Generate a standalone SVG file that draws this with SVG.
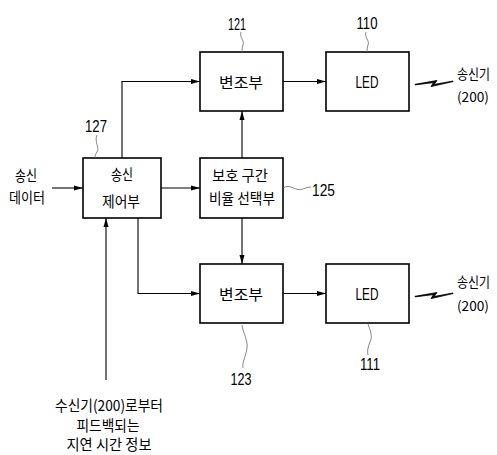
<svg xmlns="http://www.w3.org/2000/svg" width="497" height="455" viewBox="0 0 497 455">
<style>
.box{fill:#fff;stroke:#000;stroke-width:1.6}
.ln{fill:none;stroke:#000;stroke-width:1.1}
.sq{fill:none;stroke:#666;stroke-width:0.8}
.kt{font-family:"Noto Sans CJK KR","Noto Sans",sans-serif;font-size:15px;fill:#000}
.rt{font-size:13.5px}
.num{font-family:"Liberation Sans",sans-serif;font-size:17px;fill:#000}
.bolt{fill:#000;stroke:#000;stroke-width:0.8}
</style>
<defs>
<marker id="ah" markerUnits="userSpaceOnUse" markerWidth="10" markerHeight="6" refX="9" refY="3" orient="auto">
<path d="M0,0.5 L9,3 L0,5.5 z" fill="#000"/>
</marker>
</defs>
<g id="connectors">
<path class="ln" d="M52,188 H83" marker-end="url(#ah)"/>
<path class="ln" d="M122,158 V81.5 H200" marker-end="url(#ah)"/>
<path class="ln" d="M161,188 H200" marker-end="url(#ah)"/>
<path class="ln" d="M242,158 V111" marker-end="url(#ah)"/>
<path class="ln" d="M242,218 V264" marker-end="url(#ah)"/>
<path class="ln" d="M138,218 V293.5 H200" marker-end="url(#ah)"/>
<path class="ln" d="M106,380 V218" marker-end="url(#ah)"/>
<path class="ln" d="M283,81.5 H326" marker-end="url(#ah)"/>
<path class="ln" d="M283,293.5 H326" marker-end="url(#ah)"/>
</g>
<g id="n127">
<rect class="box" x="83" y="158" width="78" height="60"/>
<text class="kt" x="122" y="180" text-anchor="middle" textLength="22" lengthAdjust="spacingAndGlyphs">송신</text>
<text class="kt" x="121" y="207" text-anchor="middle" textLength="38" lengthAdjust="spacingAndGlyphs">제어부</text>
<path class="sq" d="M97,135 C94,142 100,148 97,152 C95,155 95,156 95,158"/>
<text class="num" x="96" y="132" text-anchor="middle" textLength="22" lengthAdjust="spacingAndGlyphs">127</text>
</g>
<g id="n121">
<rect class="box" x="200" y="52" width="83" height="59"/>
<text class="kt" x="241" y="88" text-anchor="middle" textLength="44" lengthAdjust="spacingAndGlyphs">변조부</text>
<path class="sq" d="M241,32 C239,37 245,41 243,45 C242,48 242,50 242,52"/>
<text class="num" x="237" y="30" text-anchor="middle" textLength="18" lengthAdjust="spacingAndGlyphs">121</text>
</g>
<g id="n110">
<rect class="box" x="326" y="52" width="83" height="59"/>
<text class="num" x="367" y="88" text-anchor="middle" textLength="23" lengthAdjust="spacingAndGlyphs">LED</text>
<path class="sq" d="M366,32 C364,37 370,41 368,45 C367,48 367,50 367,52"/>
<text class="num" x="367" y="29" text-anchor="middle" textLength="21" lengthAdjust="spacingAndGlyphs">110</text>
</g>
<g id="n125">
<rect class="box" x="200" y="158" width="83" height="60"/>
<text class="kt" x="240" y="181" text-anchor="middle" textLength="56" lengthAdjust="spacingAndGlyphs">보호 구간</text>
<text class="kt" x="242" y="204" text-anchor="middle" textLength="66" lengthAdjust="spacingAndGlyphs">비율 선택부</text>
<path class="sq" d="M283,188 C290,183 296,192 303,189 C306,188 308,187 311,187"/>
<text class="num" x="312" y="196" textLength="23" lengthAdjust="spacingAndGlyphs">125</text>
</g>
<g id="n123">
<rect class="box" x="200" y="264" width="83" height="59"/>
<text class="kt" x="241" y="300" text-anchor="middle" textLength="44" lengthAdjust="spacingAndGlyphs">변조부</text>
<path class="sq" d="M242,325 C243,333 248,340 247,348 C246,356 242,362 243,368"/>
<text class="num" x="241" y="385" text-anchor="middle" textLength="21" lengthAdjust="spacingAndGlyphs">123</text>
</g>
<g id="n111">
<rect class="box" x="326" y="264" width="83" height="59"/>
<text class="num" x="367" y="300" text-anchor="middle" textLength="23" lengthAdjust="spacingAndGlyphs">LED</text>
<path class="sq" d="M368,324 C370,330 373,336 370,342 C368,347 367,351 368,355"/>
<text class="num" x="370" y="370" text-anchor="middle" textLength="20" lengthAdjust="spacingAndGlyphs">111</text>
</g>
<g id="input">
<text class="kt" x="26" y="181" text-anchor="middle" textLength="22" lengthAdjust="spacingAndGlyphs">송신</text>
<text class="kt" x="27" y="203" text-anchor="middle" textLength="36" lengthAdjust="spacingAndGlyphs">데이터</text>
</g>
<g id="feedback">
<text class="kt" x="109" y="411" text-anchor="middle" textLength="108" lengthAdjust="spacingAndGlyphs">수신기(200)로부터</text>
<text class="kt" x="108" y="431" text-anchor="middle" textLength="63" lengthAdjust="spacingAndGlyphs">피드백되는</text>
<text class="kt" x="109" y="450" text-anchor="middle" textLength="85" lengthAdjust="spacingAndGlyphs">지연 시간 정보</text>
</g>
<g id="out1">
<polygon class="bolt" points="415,84.3 437,80.5 434,84.5 453,81 453,81.6 431,86.6 433.5,82.6 415,84.9"/>
<text class="kt rt" x="457" y="79" textLength="33" lengthAdjust="spacingAndGlyphs">송신기</text>
<text class="kt rt" x="457" y="102" textLength="32" lengthAdjust="spacingAndGlyphs">(200)</text>
</g>
<g id="out2">
<polygon class="bolt" points="415,296.3 437,292.5 434,296.5 453,293 453,293.6 431,298.6 433.5,294.6 415,296.9"/>
<text class="kt rt" x="457" y="287" textLength="33" lengthAdjust="spacingAndGlyphs">송신기</text>
<text class="kt rt" x="457" y="311" textLength="32" lengthAdjust="spacingAndGlyphs">(200)</text>
</g>
</svg>
